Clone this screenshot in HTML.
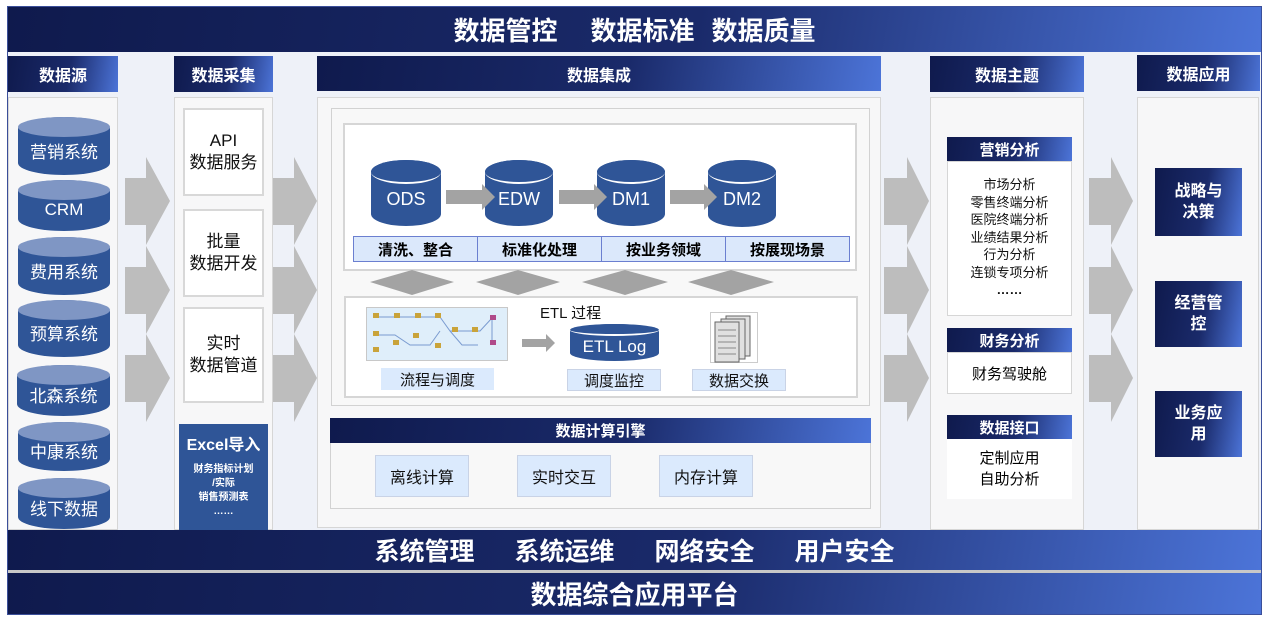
<!DOCTYPE html>
<html><head><meta charset="utf-8"><style>
*{margin:0;padding:0;box-sizing:border-box}
body{width:1269px;height:622px;background:#fff;position:relative;overflow:hidden;font-family:"Liberation Sans","Noto Sans CJK SC",sans-serif}
.a{position:absolute}
.g{background:linear-gradient(100deg,#0f1a4d 0%,#1a2a6a 55%,#4c74d8 100%);color:#fff;font-weight:bold;display:flex;align-items:center;justify-content:center;text-align:center}
.col{background:#f7f7f8;border:1px solid #d6d6d6}
.cyl{position:absolute;color:#fff;display:flex;align-items:center;justify-content:center;font-size:17px;background:#2f5597;border-radius:50%/12px}
.cyl::before{content:"";position:absolute;left:0;right:0;top:0;height:20px;border-radius:50%;background:#7f96c4}
.cyl span{position:relative;top:4px}
.cyl2{position:absolute;color:#fff;display:flex;align-items:center;justify-content:center;font-size:18px;background:#2f5597;border-radius:50%/12px}
.cyl2::before{content:"";position:absolute;left:0;right:0;top:0;height:22px;border-radius:50%;background:#2f5597;border-bottom:2px solid #fff}
.cyl2 span{position:relative;top:6px}
.wb{background:#fff;border:2px solid #d8d8d8;display:flex;align-items:center;justify-content:center;text-align:center;font-size:17px;line-height:22px;color:#111}
.lb{background:#dbeafd;display:flex;align-items:center;justify-content:center;font-size:15px;color:#111;border:1px solid #c9d3e6}
svg{position:absolute;left:0;top:0}
</style></head><body>
<div class="a" style="left:7px;top:6px;width:1255px;height:609px;background:#eef1f8;border:1px solid #3b4f9a"></div>
<div class="a g" style="left:8px;top:7px;width:1253px;height:45px;font-size:26px"><span>数据管控</span><span style="margin-left:33px">数据标准</span><span style="margin-left:17px">数据质量</span></div>

<div class="a col" style="left:8px;top:97px;width:110px;height:433px"></div>
<div class="a col" style="left:174px;top:97px;width:99px;height:433px"></div>
<div class="a col" style="left:317px;top:97px;width:564px;height:431px"></div>
<div class="a col" style="left:930px;top:97px;width:154px;height:433px"></div>
<div class="a col" style="left:1137px;top:97px;width:122px;height:433px"></div>

<div class="a g" style="left:8px;top:56px;width:110px;height:36px;font-size:16px">数据源</div>
<div class="a g" style="left:174px;top:56px;width:99px;height:36px;font-size:16px">数据采集</div>
<div class="a g" style="left:317px;top:56px;width:564px;height:35px;font-size:16px">数据集成</div>
<div class="a g" style="left:930px;top:56px;width:154px;height:36px;font-size:16px">数据主题</div>
<div class="a g" style="left:1137px;top:55px;width:123px;height:36px;font-size:16px">数据应用</div>

<div class="cyl" style="left:18px;top:117px;width:92px;height:58px"><span>营销系统</span></div>
<div class="cyl" style="left:18px;top:180px;width:92px;height:51px"><span>CRM</span></div>
<div class="cyl" style="left:18px;top:237px;width:92px;height:58px"><span>费用系统</span></div>
<div class="cyl" style="left:18px;top:300px;width:92px;height:57px"><span>预算系统</span></div>
<div class="cyl" style="left:17px;top:365px;width:93px;height:51px"><span>北森系统</span></div>
<div class="cyl" style="left:18px;top:422px;width:92px;height:49px"><span>中康系统</span></div>
<div class="cyl" style="left:18px;top:478px;width:92px;height:51px"><span>线下数据</span></div>

<div class="a wb" style="left:183px;top:108px;width:81px;height:88px">API<br>数据服务</div>
<div class="a wb" style="left:183px;top:209px;width:81px;height:88px">批量<br>数据开发</div>
<div class="a wb" style="left:183px;top:307px;width:81px;height:96px">实时<br>数据管道</div>
<div class="a" style="left:179px;top:424px;width:89px;height:106px;background:#2f5597;color:#fff;text-align:center">
<div style="font-size:16px;font-weight:bold;margin-top:7px">Excel导入</div>
<div style="font-size:10px;font-weight:bold;line-height:14px;margin-top:8px">财务指标计划<br>/实际<br>销售预测表<br>……</div></div>

<svg width="1269" height="622">
<g fill="#bdbdbd">
<polygon points="125,178 146,178 146,157 170,201 146,245 146,225 125,225"/>
<polygon points="125,267 146,267 146,246 170,290 146,334 146,314 125,314"/>
<polygon points="125,355 146,355 146,334 170,378 146,422 146,402 125,402"/>
<polygon points="273,178 294,178 294,157 317,201 294,245 294,225 273,225"/>
<polygon points="273,267 294,267 294,246 317,290 294,334 294,314 273,314"/>
<polygon points="273,355 294,355 294,334 317,378 294,422 294,402 273,402"/>
<polygon points="884,178 907,178 907,157 929,201 907,245 907,225 884,225"/>
<polygon points="884,267 907,267 907,246 929,290 907,334 907,314 884,314"/>
<polygon points="884,355 907,355 907,334 929,378 907,422 907,402 884,402"/>
<polygon points="1089,178 1111,178 1111,157 1133,201 1111,245 1111,225 1089,225"/>
<polygon points="1089,267 1111,267 1111,246 1133,290 1111,334 1111,314 1089,314"/>
<polygon points="1089,355 1111,355 1111,334 1133,378 1111,422 1111,402 1089,402"/>
</g>
</svg>

<div class="a" style="left:331px;top:108px;width:539px;height:298px;border:1px solid #d2d2d2;background:#f8f8f8"></div>
<div class="a" style="left:343px;top:123px;width:514px;height:148px;border:2px solid #d6d6d6;background:#fff"></div>
<div class="cyl2" style="left:371px;top:160px;width:70px;height:66px"><span>ODS</span></div>
<div class="cyl2" style="left:485px;top:160px;width:68px;height:66px"><span>EDW</span></div>
<div class="cyl2" style="left:597px;top:160px;width:68px;height:66px"><span>DM1</span></div>
<div class="cyl2" style="left:708px;top:160px;width:68px;height:67px"><span>DM2</span></div>
<div class="a" style="left:353px;top:236px;width:497px;height:26px;border:1px solid #6b7fd0;background:#dbe8fb;display:flex">
<div style="flex:1;border-right:1px solid #6b7fd0;display:flex;align-items:center;justify-content:center;font-size:15px;font-weight:bold">清洗、整合</div>
<div style="flex:1;border-right:1px solid #6b7fd0;display:flex;align-items:center;justify-content:center;font-size:15px;font-weight:bold">标准化处理</div>
<div style="flex:1;border-right:1px solid #6b7fd0;display:flex;align-items:center;justify-content:center;font-size:15px;font-weight:bold">按业务领域</div>
<div style="flex:1;display:flex;align-items:center;justify-content:center;font-size:15px;font-weight:bold">按展现场景</div></div>
<div class="a" style="left:344px;top:296px;width:514px;height:102px;border:2px solid #d6d6d6;background:#fff"></div>
<div class="a" style="left:366px;top:307px;width:142px;height:54px;background:#dfeefa;border:1px solid #c8c8c8"></div>
<div class="a lb" style="left:381px;top:368px;width:113px;height:22px;border:none">流程与调度</div>
<div class="a" style="left:540px;top:302px;font-size:15px;color:#111">ETL 过程</div>
<div class="a" style="left:570px;top:324px;width:89px;height:37px;background:#2f5597;border-radius:50%/8px"></div>
<div class="a" style="left:570px;top:324px;width:89px;height:12px;border-radius:50%;border-bottom:2px solid #fff;background:#2f5597"></div>
<div class="a" style="left:570px;top:337px;width:89px;text-align:center;color:#fff;font-size:17px;line-height:20px">ETL Log</div>
<div class="a lb" style="left:567px;top:369px;width:94px;height:22px">调度监控</div>
<div class="a lb" style="left:692px;top:369px;width:94px;height:22px">数据交换</div>
<div class="a" style="left:710px;top:312px;width:48px;height:51px;border:1px solid #ccc;background:#fff"></div>

<svg width="1269" height="622">
<g fill="#a3a3a3">
<polygon points="446,190 482,190 482,184 495,197 482,210 482,204 446,204"/>
<polygon points="559,190 594,190 594,184 607,197 594,210 594,204 559,204"/>
<polygon points="670,190 704,190 704,184 717,197 704,210 704,204 670,204"/>
<polygon points="522,339 546,339 546,334 555,343 546,352 546,347 522,347"/>
<polygon points="370,282 412,270 454,282 412,295"/>
<polygon points="476,282 518,270 560,282 518,295"/>
<polygon points="582,282 625,270 668,282 625,295"/>
<polygon points="688,282 731,270 774,282 731,295"/>
</g>
<g stroke="#7a9bd0" fill="none" stroke-width="1"><path d="M375,317 H440 L450,331 H480 L492,318 M375,335 H395 L410,345 H430 L440,331 M450,331 L462,345 H478 M492,318 L492,345"/></g>
<g fill="#c9a33a"><rect x="373" y="313" width="6" height="5"/><rect x="394" y="313" width="6" height="5"/><rect x="415" y="313" width="6" height="5"/><rect x="435" y="313" width="6" height="5"/><rect x="373" y="331" width="6" height="5"/><rect x="373" y="347" width="6" height="5"/><rect x="393" y="340" width="6" height="5"/><rect x="413" y="333" width="6" height="5"/><rect x="435" y="343" width="6" height="5"/><rect x="452" y="327" width="6" height="5"/><rect x="472" y="327" width="6" height="5"/><rect x="490" y="315" width="6" height="5" fill="#b04a8a"/><rect x="490" y="340" width="6" height="5" fill="#b04a8a"/></g>
<g fill="#e0e0e0" stroke="#666"><rect x="726" y="316" width="24" height="40"/><rect x="721" y="319" width="24" height="40"/><rect x="715" y="322" width="24" height="40"/></g>
<g stroke="#888"><line x1="718" y1="330" x2="736" y2="330"/><line x1="718" y1="336" x2="736" y2="336"/><line x1="718" y1="342" x2="736" y2="342"/><line x1="718" y1="348" x2="736" y2="348"/><line x1="718" y1="354" x2="736" y2="354"/></g>
</svg>

<div class="a" style="left:330px;top:418px;width:541px;height:91px;border:1px solid #d2d2d2;background:#f8f8f8"></div>
<div class="a g" style="left:330px;top:418px;width:541px;height:25px;font-size:15px">数据计算引擎</div>
<div class="a lb" style="left:375px;top:455px;width:94px;height:42px;font-size:16px">离线计算</div>
<div class="a lb" style="left:517px;top:455px;width:94px;height:42px;font-size:16px">实时交互</div>
<div class="a lb" style="left:659px;top:455px;width:94px;height:42px;font-size:16px">内存计算</div>

<div class="a g" style="left:947px;top:137px;width:125px;height:24px;font-size:15px">营销分析</div>
<div class="a" style="left:947px;top:161px;width:125px;height:155px;background:#fff;border:1px solid #d6d6d6;text-align:center;font-size:13px;line-height:17.5px;padding-top:14px;color:#111">市场分析<br>零售终端分析<br>医院终端分析<br>业绩结果分析<br>行为分析<br>连锁专项分析<br><b>……</b></div>
<div class="a g" style="left:947px;top:328px;width:125px;height:24px;font-size:15px">财务分析</div>
<div class="a" style="left:947px;top:352px;width:125px;height:42px;background:#fff;border:1px solid #d6d6d6;display:flex;align-items:center;justify-content:center;font-size:15px">财务驾驶舱</div>
<div class="a g" style="left:947px;top:415px;width:125px;height:24px;font-size:15px">数据接口</div>
<div class="a" style="left:947px;top:439px;width:125px;height:60px;background:#fff;text-align:center;font-size:15px;line-height:21px;padding-top:9px">定制应用<br>自助分析</div>

<div class="a g" style="left:1155px;top:168px;width:87px;height:68px;font-size:16px;line-height:21px">战略与<br>决策</div>
<div class="a g" style="left:1155px;top:281px;width:87px;height:66px;font-size:16px;line-height:21px">经营管<br>控</div>
<div class="a g" style="left:1155px;top:391px;width:87px;height:66px;font-size:16px;line-height:21px">业务应<br>用</div>

<div class="a g" style="left:8px;top:530px;width:1253px;height:40px;font-size:25px"><span>系统管理</span><span style="margin-left:40px">系统运维</span><span style="margin-left:40px">网络安全</span><span style="margin-left:40px">用户安全</span></div>
<div class="a" style="left:8px;top:570px;width:1253px;height:3px;background:#c8c8c8"></div>
<div class="a g" style="left:8px;top:573px;width:1253px;height:41px;font-size:26px">数据综合应用平台</div>
</body></html>
